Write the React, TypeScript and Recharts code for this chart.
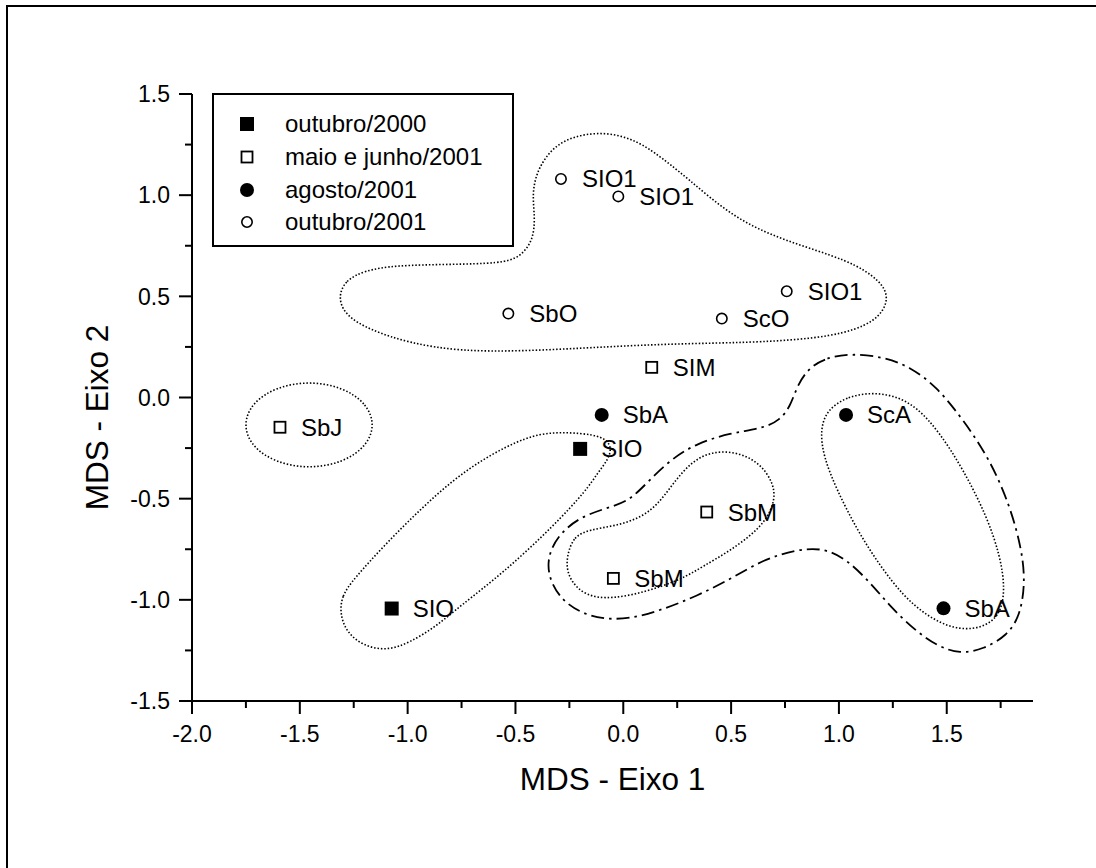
import { ScatterChart, Scatter, XAxis, YAxis, Legend } from 'recharts';

// tick values
const xTicks = [-2, -1.75, -1.5, -1.25, -1, -0.75, -0.5, -0.25, 0, 0.25, 0.5, 0.75, 1, 1.25, 1.5, 1.75];
const yTicks = [-1.5, -1.25, -1, -0.75, -0.5, -0.25, 0, 0.25, 0.5, 0.75, 1, 1.25, 1.5];

// sample points per campaign
const outubro2000 = [
  { name: 'SIO', x: -0.2, y: -0.254 },
  { name: 'SIO', x: -1.074, y: -1.043 },
];
const maioJunho2001 = [
  { name: 'SbJ', x: -1.592, y: -0.147 },
  { name: 'SIM', x: 0.132, y: 0.149 },
  { name: 'SbM', x: 0.387, y: -0.566 },
  { name: 'SbM', x: -0.046, y: -0.894 },
];
const agosto2001 = [
  { name: 'SbA', x: -0.1, y: -0.086 },
  { name: 'ScA', x: 1.033, y: -0.086 },
  { name: 'SbA', x: 1.485, y: -1.042 },
];
const outubro2001 = [
  { name: 'SIO1', x: -0.289, y: 1.08 },
  { name: 'SIO1', x: -0.023, y: 0.994 },
  { name: 'SIO1', x: 0.758, y: 0.525 },
  { name: 'SbO', x: -0.533, y: 0.415 },
  { name: 'ScO', x: 0.457, y: 0.39 },
];

// group outlines (data units), drawn as closed smooth curves
const outlineTop = [
  [-1.323, 0.495], [-1.29, 0.579], [-1.198, 0.628], [-1.058, 0.653], [-0.803, 0.658], [-0.571, 0.663],
  [-0.479, 0.692], [-0.418, 0.776], [-0.409, 0.889], [-0.423, 1.007], [-0.4, 1.121], [-0.34, 1.219],
  [-0.27, 1.273], [-0.177, 1.303], [-0.07, 1.308], [0.041, 1.278], [0.138, 1.219], [0.296, 1.086],
  [0.509, 0.889], [0.741, 0.776], [1.052, 0.677], [1.191, 0.579], [1.237, 0.49], [1.177, 0.372],
  [0.973, 0.298], [0.635, 0.273], [0.356, 0.268], [0.078, 0.259], [-0.186, 0.244], [-0.479, 0.229],
  [-0.757, 0.229], [-0.989, 0.268], [-1.174, 0.333], [-1.29, 0.406],
];
const outlineSbJ = [
  [-1.151, -0.135], [-1.192, -0.027], [-1.304, 0.052], [-1.457, 0.081], [-1.61, 0.052], [-1.723, -0.027],
  [-1.763, -0.135], [-1.723, -0.244], [-1.61, -0.323], [-1.457, -0.352], [-1.304, -0.323], [-1.192, -0.244],
];
const outlineSIO = [
  [-1.314, -1.071], [-1.306, -0.981], [-1.252, -0.899], [-1.097, -0.718], [-0.942, -0.554], [-0.788, -0.406],
  [-0.633, -0.292], [-0.448, -0.193], [-0.324, -0.171], [-0.2, -0.176], [-0.092, -0.193], [-0.052, -0.244],
  [-0.07, -0.308], [-0.122, -0.377], [-0.169, -0.456], [-0.324, -0.636], [-0.556, -0.866], [-0.757, -1.031],
  [-0.865, -1.129], [-0.989, -1.211], [-1.097, -1.252], [-1.205, -1.228], [-1.282, -1.162],
];
const outlineSbM = [
  [-0.262, -0.784], [-0.231, -0.686], [-0.154, -0.653], [-0.046, -0.636], [0.063, -0.603], [0.155, -0.538],
  [0.232, -0.423], [0.31, -0.324], [0.403, -0.267], [0.526, -0.267], [0.635, -0.324], [0.696, -0.423],
  [0.704, -0.505], [0.666, -0.603], [0.588, -0.686], [0.48, -0.767], [0.372, -0.833], [0.295, -0.883],
  [0.186, -0.932], [0.032, -0.981], [-0.123, -0.998], [-0.216, -0.948], [-0.262, -0.866],
];
const outlineAgosto = [
  [1.145, 0.024], [1.037, 0.004], [0.944, -0.062], [0.913, -0.16], [0.928, -0.292], [0.99, -0.456],
  [1.083, -0.653], [1.191, -0.833], [1.299, -0.981], [1.408, -1.08], [1.531, -1.145], [1.655, -1.145],
  [1.748, -1.08], [1.771, -0.948], [1.748, -0.784], [1.686, -0.587], [1.577, -0.357], [1.469, -0.176],
  [1.361, -0.045], [1.253, 0.012],
];
const outlineDashDot = [
  [1.052, 0.218], [0.928, 0.193], [0.851, 0.135], [0.805, 0.053], [0.774, -0.045], [0.727, -0.111],
  [0.65, -0.152], [0.495, -0.176], [0.341, -0.226], [0.217, -0.308], [0.109, -0.423], [0.032, -0.505],
  [-0.046, -0.538], [-0.2, -0.587], [-0.308, -0.686], [-0.355, -0.8], [-0.34, -0.915], [-0.262, -1.031],
  [-0.123, -1.096], [0.032, -1.096], [0.186, -1.047], [0.341, -0.981], [0.495, -0.899], [0.65, -0.8],
  [0.805, -0.751], [0.928, -0.743], [1.037, -0.8], [1.145, -0.915], [1.237, -1.031], [1.346, -1.145],
  [1.454, -1.228], [1.562, -1.268], [1.67, -1.244], [1.779, -1.178], [1.84, -1.08], [1.864, -0.915],
  [1.848, -0.751], [1.794, -0.538], [1.701, -0.308], [1.577, -0.111], [1.454, 0.053], [1.33, 0.152],
  [1.206, 0.201],
];

const toPts = (a: number[][]) => a.map(([x, y]) => ({ x, y }));

const FONT = '"Liberation Sans", Arial, Helvetica, sans-serif';

type Kind = 'fsq' | 'osq' | 'fci' | 'oci';

function Marker({ kind, cx, cy }: { kind: Kind; cx: number; cy: number }) {
  if (kind === 'fsq') return <rect x={cx - 7} y={cy - 7} width={14} height={14} fill="#000" />;
  if (kind === 'osq') return <rect x={cx - 5.5} y={cy - 5.5} width={11} height={11} fill="#fff" stroke="#000" strokeWidth={1.8} />;
  if (kind === 'fci') return <circle cx={cx} cy={cy} r={7} fill="#000" />;
  return <circle cx={cx} cy={cy} r={5.2} fill="#fff" stroke="#000" strokeWidth={1.6} />;
}

const pointShape = (kind: Kind) => (props: any) => {
  const { cx, cy, payload } = props;
  return (
    <g>
      <Marker kind={kind} cx={cx} cy={cy} />
      <text x={cx + 21} y={cy + 8.5} fontSize={24} fill="#000" fontFamily={FONT}>{payload.name}</text>
    </g>
  );
};

const noShape = () => <g />;

const legendItems: { label: string; kind: Kind }[] = [
  { label: 'outubro/2000', kind: 'fsq' },
  { label: 'maio e junho/2001', kind: 'osq' },
  { label: 'agosto/2001', kind: 'fci' },
  { label: 'outubro/2001', kind: 'oci' },
];
const legendRows = [31, 64, 97, 129];

const renderLegend = () => (
  <svg width={302} height={154} style={{ display: 'block' }}>
    <rect x={1} y={1} width={300} height={152} fill="#fff" stroke="#000" strokeWidth={2} />
    {legendItems.map((it, i) => (
      <g key={it.label}>
        <Marker kind={it.kind} cx={35} cy={legendRows[i]} />
        <text x={73} y={legendRows[i] + 7.5} fontSize={24} fontFamily={FONT} fill="#000">{it.label}</text>
      </g>
    ))}
  </svg>
);

const isMajor = (v: number) => Math.abs(v * 2 - Math.round(v * 2)) < 1e-6;

const XTick = (props: any) => {
  const { x, y, payload } = props;
  const v = payload.value as number;
  const major = isMajor(v);
  return (
    <g>
      <line x1={x} y1={y} x2={x} y2={y + (major ? 13 : 7)} stroke="#000" strokeWidth={2} />
      {major && (
        <text x={x} y={y + 40.5} textAnchor="middle" fontSize={23} fontFamily={FONT} fill="#000">{v.toFixed(1)}</text>
      )}
    </g>
  );
};

const YTick = (props: any) => {
  const { x, y, payload } = props;
  const v = payload.value as number;
  const major = isMajor(v);
  return (
    <g>
      <line x1={x} y1={y} x2={x - (major ? 13 : 7)} y2={y} stroke="#000" strokeWidth={2} />
      {major && (
        <text x={x - 22} y={y + 8.2} textAnchor="end" fontSize={23} fontFamily={FONT} fill="#000">{v.toFixed(1)}</text>
      )}
    </g>
  );
};

const XTitle = (props: any) => {
  const vb = props.viewBox || { x: 192, y: 701, width: 841, height: 80 };
  return (
    <text x={vb.x + vb.width / 2} y={vb.y + 89} textAnchor="middle" fontSize={31.5} fontFamily={FONT} fill="#000">
      MDS - Eixo 1
    </text>
  );
};

const YTitle = (props: any) => {
  const vb = props.viewBox || { x: 112, y: 94, width: 80, height: 607 };
  const x = vb.x + vb.width - 84;
  const y = vb.y + vb.height / 2 + 20;
  return (
    <text x={x} y={y} transform={`rotate(-90 ${x} ${y})`} textAnchor="middle" fontSize={31.5} fontFamily={FONT} fill="#000">
      MDS - Eixo 2
    </text>
  );
};

const dotted = { stroke: '#000', strokeWidth: 1.6, strokeDasharray: '1.5 1.9' };
const dashDot = { stroke: '#000', strokeWidth: 1.8, strokeDasharray: '13 5 2.5 5' };

export default function App() {
  return (
    <div style={{ position: 'absolute', left: 0, top: 0, width: 1096, height: 868, overflow: 'hidden', background: '#fff', fontFamily: FONT }}>
      <div style={{ position: 'absolute', left: 6, top: 5, width: 1300, height: 1000, borderLeft: '2px solid #000', borderTop: '2px solid #000' }} />
      <ScatterChart width={1096} height={868} margin={{ top: 94, right: 63, bottom: 87, left: 112 }}>
        <XAxis
          type="number"
          dataKey="x"
          domain={[-2, 1.9]}
          ticks={xTicks}
          interval={0}
          height={80}
          tickSize={0}
          tickMargin={0}
          tickLine={false}
          tick={(p: any) => <XTick {...p} />}
          axisLine={{ stroke: '#000', strokeWidth: 2 }}
          label={{ content: XTitle }}
        />
        <YAxis
          type="number"
          dataKey="y"
          domain={[-1.5, 1.5]}
          ticks={yTicks}
          interval={0}
          width={80}
          tickSize={0}
          tickMargin={0}
          tickLine={false}
          tick={(p: any) => <YTick {...p} />}
          axisLine={{ stroke: '#000', strokeWidth: 2 }}
          label={{ content: YTitle }}
        />
        <Legend
          layout="vertical"
          align="center"
          verticalAlign="middle"
          content={renderLegend}
          wrapperStyle={{ left: 212, top: 93, width: 302, height: 154 }}
        />
        <Scatter data={toPts(outlineTop)} line={dotted} lineJointType="basisClosed" shape={noShape} fill="none" legendType="none" isAnimationActive={false} />
        <Scatter data={toPts(outlineSbJ)} line={dotted} lineJointType="basisClosed" shape={noShape} fill="none" legendType="none" isAnimationActive={false} />
        <Scatter data={toPts(outlineSIO)} line={dotted} lineJointType="basisClosed" shape={noShape} fill="none" legendType="none" isAnimationActive={false} />
        <Scatter data={toPts(outlineSbM)} line={dotted} lineJointType="basisClosed" shape={noShape} fill="none" legendType="none" isAnimationActive={false} />
        <Scatter data={toPts(outlineAgosto)} line={dotted} lineJointType="basisClosed" shape={noShape} fill="none" legendType="none" isAnimationActive={false} />
        <Scatter data={toPts(outlineDashDot)} line={dashDot} lineJointType="basisClosed" shape={noShape} fill="none" legendType="none" isAnimationActive={false} />
        <Scatter name="outubro/2000" data={outubro2000} shape={pointShape('fsq')} fill="#000" isAnimationActive={false} />
        <Scatter name="maio e junho/2001" data={maioJunho2001} shape={pointShape('osq')} fill="#000" isAnimationActive={false} />
        <Scatter name="agosto/2001" data={agosto2001} shape={pointShape('fci')} fill="#000" isAnimationActive={false} />
        <Scatter name="outubro/2001" data={outubro2001} shape={pointShape('oci')} fill="#000" isAnimationActive={false} />
      </ScatterChart>
    </div>
  );
}
